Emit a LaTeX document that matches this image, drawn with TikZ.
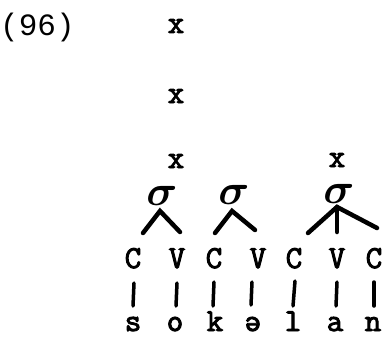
\documentclass[tikz,border=0pt]{standalone}
\usepackage{amsmath}
\usepackage{graphicx}
\usepackage{fontspec}
\newfontfamily\twfont[FakeBold=3]{Latin Modern Mono}
\newfontfamily\numfont{Liberation Mono}
\newcommand{\syl}{\scalebox{4.3}{$\boldsymbol{\sigma}$}}
\begin{document}
\begin{tikzpicture}[x=1pt,y=-1pt,
  tw/.style={font=\fontsize{32}{32}\selectfont\twfont, inner sep=0pt, anchor=base},
  lbl/.style={font=\fontsize{31}{31}\selectfont\numfont, inner sep=0pt, anchor=base west},
  sig/.style={inner sep=0pt},
  br/.style={line width=4.5pt, line cap=round},
  bar/.style={line width=3.5pt, line cap=round}]
\useasboundingbox (0,0) rectangle (387,337);
\node[lbl] (num) at (0,35) {(96)};
% grid
\node[tw] (x1) at (176,33) {x};
\node[tw] (x2) at (176,103) {x};
\node[tw] (x3) at (176,168) {x};
\node[tw] (x4) at (337,167) {x};
% sigmas
\node[sig] (s1) at (162,196) {\syl};
\node[sig] (s2) at (234,195) {\syl};
\node[sig] (s3) at (339,194) {\syl};
% apex coordinates and feet
\coordinate (a1) at (160,211);
\coordinate (a2) at (232,211);
\coordinate (a3) at (337,207);
\coordinate (f1l) at (143,233);
\coordinate (f1r) at (180,232);
\coordinate (f2l) at (215,233);
\coordinate (f2r) at (255,230);
\coordinate (f3l) at (308,233);
\coordinate (f3m) at (337,232);
\coordinate (f3r) at (377,228);
\draw[br] (f1l) -- (a1) -- (f1r);
\draw[br] (f2l) -- (a2) -- (f2r);
\draw[br] (f3l) -- (a3) -- (f3r);
\draw[br] (a3) -- (f3m);
% CV tier
\node[tw] (c1) at (133,268) {C};
\node[tw] (v1) at (177,268) {V};
\node[tw] (c2) at (214,268) {C};
\node[tw] (v2) at (258,268) {V};
\node[tw] (c3) at (294,268) {C};
\node[tw] (v3) at (337,268) {V};
\node[tw] (c4) at (374,268) {C};
% segments
\node[tw] (m1) at (133,331) {s};
\node[tw] (m2) at (175,331) {o};
\node[tw] (m3) at (215,331) {k};
\node[tw] (m4) at (253,331) {ə};
\node[tw] (m5) at (293,331) {l};
\node[tw] (m6) at (335,331) {a};
\node[tw] (m7) at (373,331) {n};
% association lines
\coordinate (b1t) at (134,283); \coordinate (b1b) at (133,306);
\coordinate (b2t) at (177,283); \coordinate (b2b) at (176,306);
\coordinate (b3t) at (214,282); \coordinate (b3b) at (213,306);
\coordinate (b4t) at (252,282); \coordinate (b4b) at (251,305);
\coordinate (b5t) at (295,281); \coordinate (b5b) at (293,306);
\coordinate (b6t) at (337,282); \coordinate (b6b) at (336,306);
\coordinate (b7t) at (374,282); \coordinate (b7b) at (374,306);
\draw[bar] (b1t) -- (b1b);
\draw[bar] (b2t) -- (b2b);
\draw[bar] (b3t) -- (b3b);
\draw[bar] (b4t) -- (b4b);
\draw[bar] (b5t) -- (b5b);
\draw[bar] (b6t) -- (b6b);
\draw[bar] (b7t) -- (b7b);
\end{tikzpicture}
\end{document}
